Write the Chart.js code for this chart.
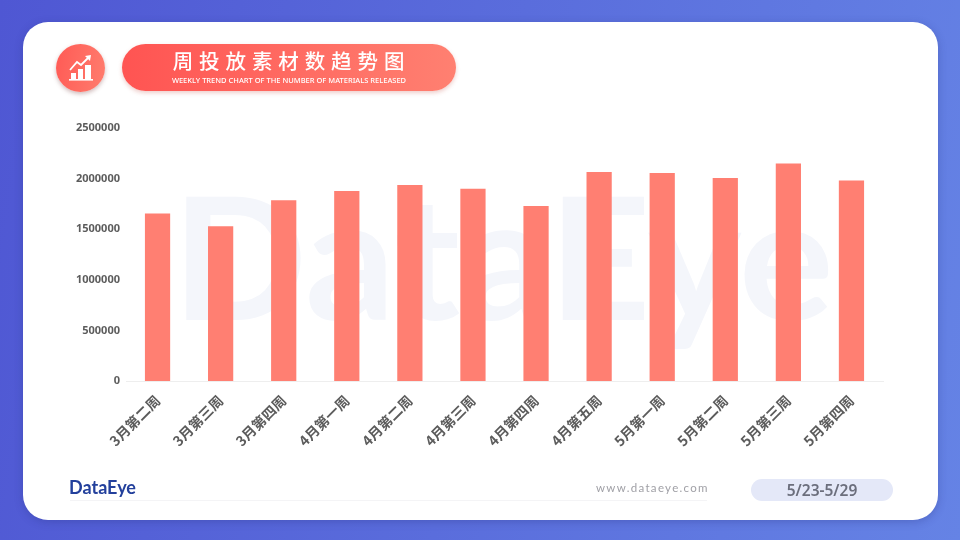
<!DOCTYPE html>
<html>
<head>
<meta charset="utf-8">
<style>
html, body { margin: 0; padding: 0; }
body { width: 960px; height: 540px; overflow: hidden; position: relative; background: linear-gradient(100deg, #4f57d3 0%, #6583e5 100%); font-family: "Noto Sans CJK SC", "Noto Sans", sans-serif; }
.card { position: absolute; left: 23px; top: 22px; width: 915px; height: 498px; background: #fff; border-radius: 25px; box-shadow: 0 2px 8px rgba(40, 50, 130, .3); }
.watermark { position: absolute; left: 172px; top: 143px; font: 700 171px/222px Lato, sans-serif; color: #f4f6fb; white-space: nowrap; transform-origin: 0 0; transform: scaleX(1.04); }
canvas { position: absolute; left: 0; top: 0; }
.badge { position: absolute; left: 56px; top: 44px; width: 49px; height: 48px; border-radius: 50%; background: linear-gradient(100deg, #ff5a55, #ff7d6e); box-shadow: 0 2px 4px rgba(120, 60, 60, .35); }
.pill { position: absolute; left: 122px; top: 44px; width: 334px; height: 47px; border-radius: 24px; background: linear-gradient(90deg, #ff5452 0%, #ff8071 100%); box-shadow: 0 2px 4px rgba(200, 90, 80, .3); color: #fff; text-align: center; }
.pill .main { position: absolute; left: 0; right: 0; top: 2px; font-size: 20.5px; line-height: 29px; font-weight: 500; letter-spacing: 5.9px; text-indent: 5px; }
.pill .sub { position: absolute; left: 0; right: 0; top: 31px; font: 500 7.5px/10px "Noto Sans", sans-serif; white-space: nowrap; }
.logo { position: absolute; left: 69px; top: 476px; font: 700 18px/22px Lato, sans-serif; color: #23409c; }
.rule { position: absolute; left: 70px; top: 500px; width: 637px; height: 1px; background: #f4f4f6; }
.site { position: absolute; left: 596px; top: 480px; font: 400 11.5px/16px Lato, sans-serif; letter-spacing: 1.3px; color: #a0a0a6; }
.date { position: absolute; left: 751px; top: 479px; width: 142px; height: 22px; border-radius: 11px; background: #e4e8f8; color: #6b6e7c; font: 600 15.5px/23px "Noto Sans", sans-serif; text-align: center; }
</style>
</head>
<body>
<div class="card"></div>
<div class="watermark">DataEye</div>
<canvas id="trendChart" width="960" height="540"></canvas>
<div class="badge">
    <svg width="49" height="48" viewBox="0 0 49 48">
        <g fill="#fff">
            <rect x="15" y="29" width="5" height="6"/>
            <rect x="22" y="25" width="5" height="10"/>
            <rect x="29" y="21" width="6" height="14"/>
            <rect x="13" y="35" width="24" height="1.6"/>
        </g>
        <path d="M14 26 L21 18 L25 21 L33 13" fill="none" stroke="#fff" stroke-width="1.8"/>
        <path d="M29 12 L35 11 L34 17 Z" fill="#fff"/>
    </svg>
</div>
<div class="pill">
    <div class="main">周投放素材数趋势图</div>
    <div class="sub">WEEKLY TREND CHART OF THE NUMBER OF MATERIALS RELEASED</div>
</div>
<div class="logo">DataEye</div>
<div class="rule"></div>
<div class="site">www.dataeye.com</div>
<div class="date">5/23-5/29</div>

<script src="https://cdn.jsdelivr.net/npm/chart.js@4"></script>
<script>
const weeks = ['3月第二周', '3月第三周', '3月第四周', '4月第一周', '4月第二周', '4月第三周', '4月第四周', '4月第五周', '5月第一周', '5月第二周', '5月第三周', '5月第四周'];
const materials = [1655000, 1529000, 1786000, 1877000, 1937000, 1900000, 1729000, 2065000, 2055000, 2006000, 2149000, 1981000];
const yTicks = [0, 500000, 1000000, 1500000, 2000000, 2500000];

const ctx = document.getElementById('trendChart').getContext('2d');
new Chart(ctx, {
    type: 'bar',
    data: {
        labels: weeks,
        datasets: [{
            data: materials,
            backgroundColor: '#ff7f72',
            barPercentage: 0.4,
            categoryPercentage: 1
        }]
    },
    options: {
        responsive: false,
        animation: false,
        layout: { padding: { top: 128, right: 77 } },
        plugins: { legend: { display: false }, tooltip: { enabled: false } },
        scales: {
            x: {
                grid: { display: false, drawTicks: false },
                border: { color: '#eeeeee', width: 1 },
                ticks: {
                    color: '#5c5c5c',
                    font: { family: '"Noto Sans CJK SC"', size: 14, weight: '700' },
                    minRotation: 45,
                    maxRotation: 45,
                    padding: 11,
                    autoSkip: false
                },
                afterFit: (scale) => { scale.height = 159; }
            },
            y: {
                min: 0,
                max: 2500000,
                grid: { display: false, drawTicks: false },
                border: { display: false },
                afterBuildTicks: (scale) => { scale.ticks = yTicks.map(v => ({ value: v })); },
                ticks: {
                    color: '#5c5c5c',
                    font: { family: '"Noto Sans"', size: 11, weight: '700' },
                    padding: 6,
                    callback: (v) => String(v)
                },
                afterFit: (scale) => { scale.width = 126; }
            }
        }
    }
});
</script>
</body>
</html>
